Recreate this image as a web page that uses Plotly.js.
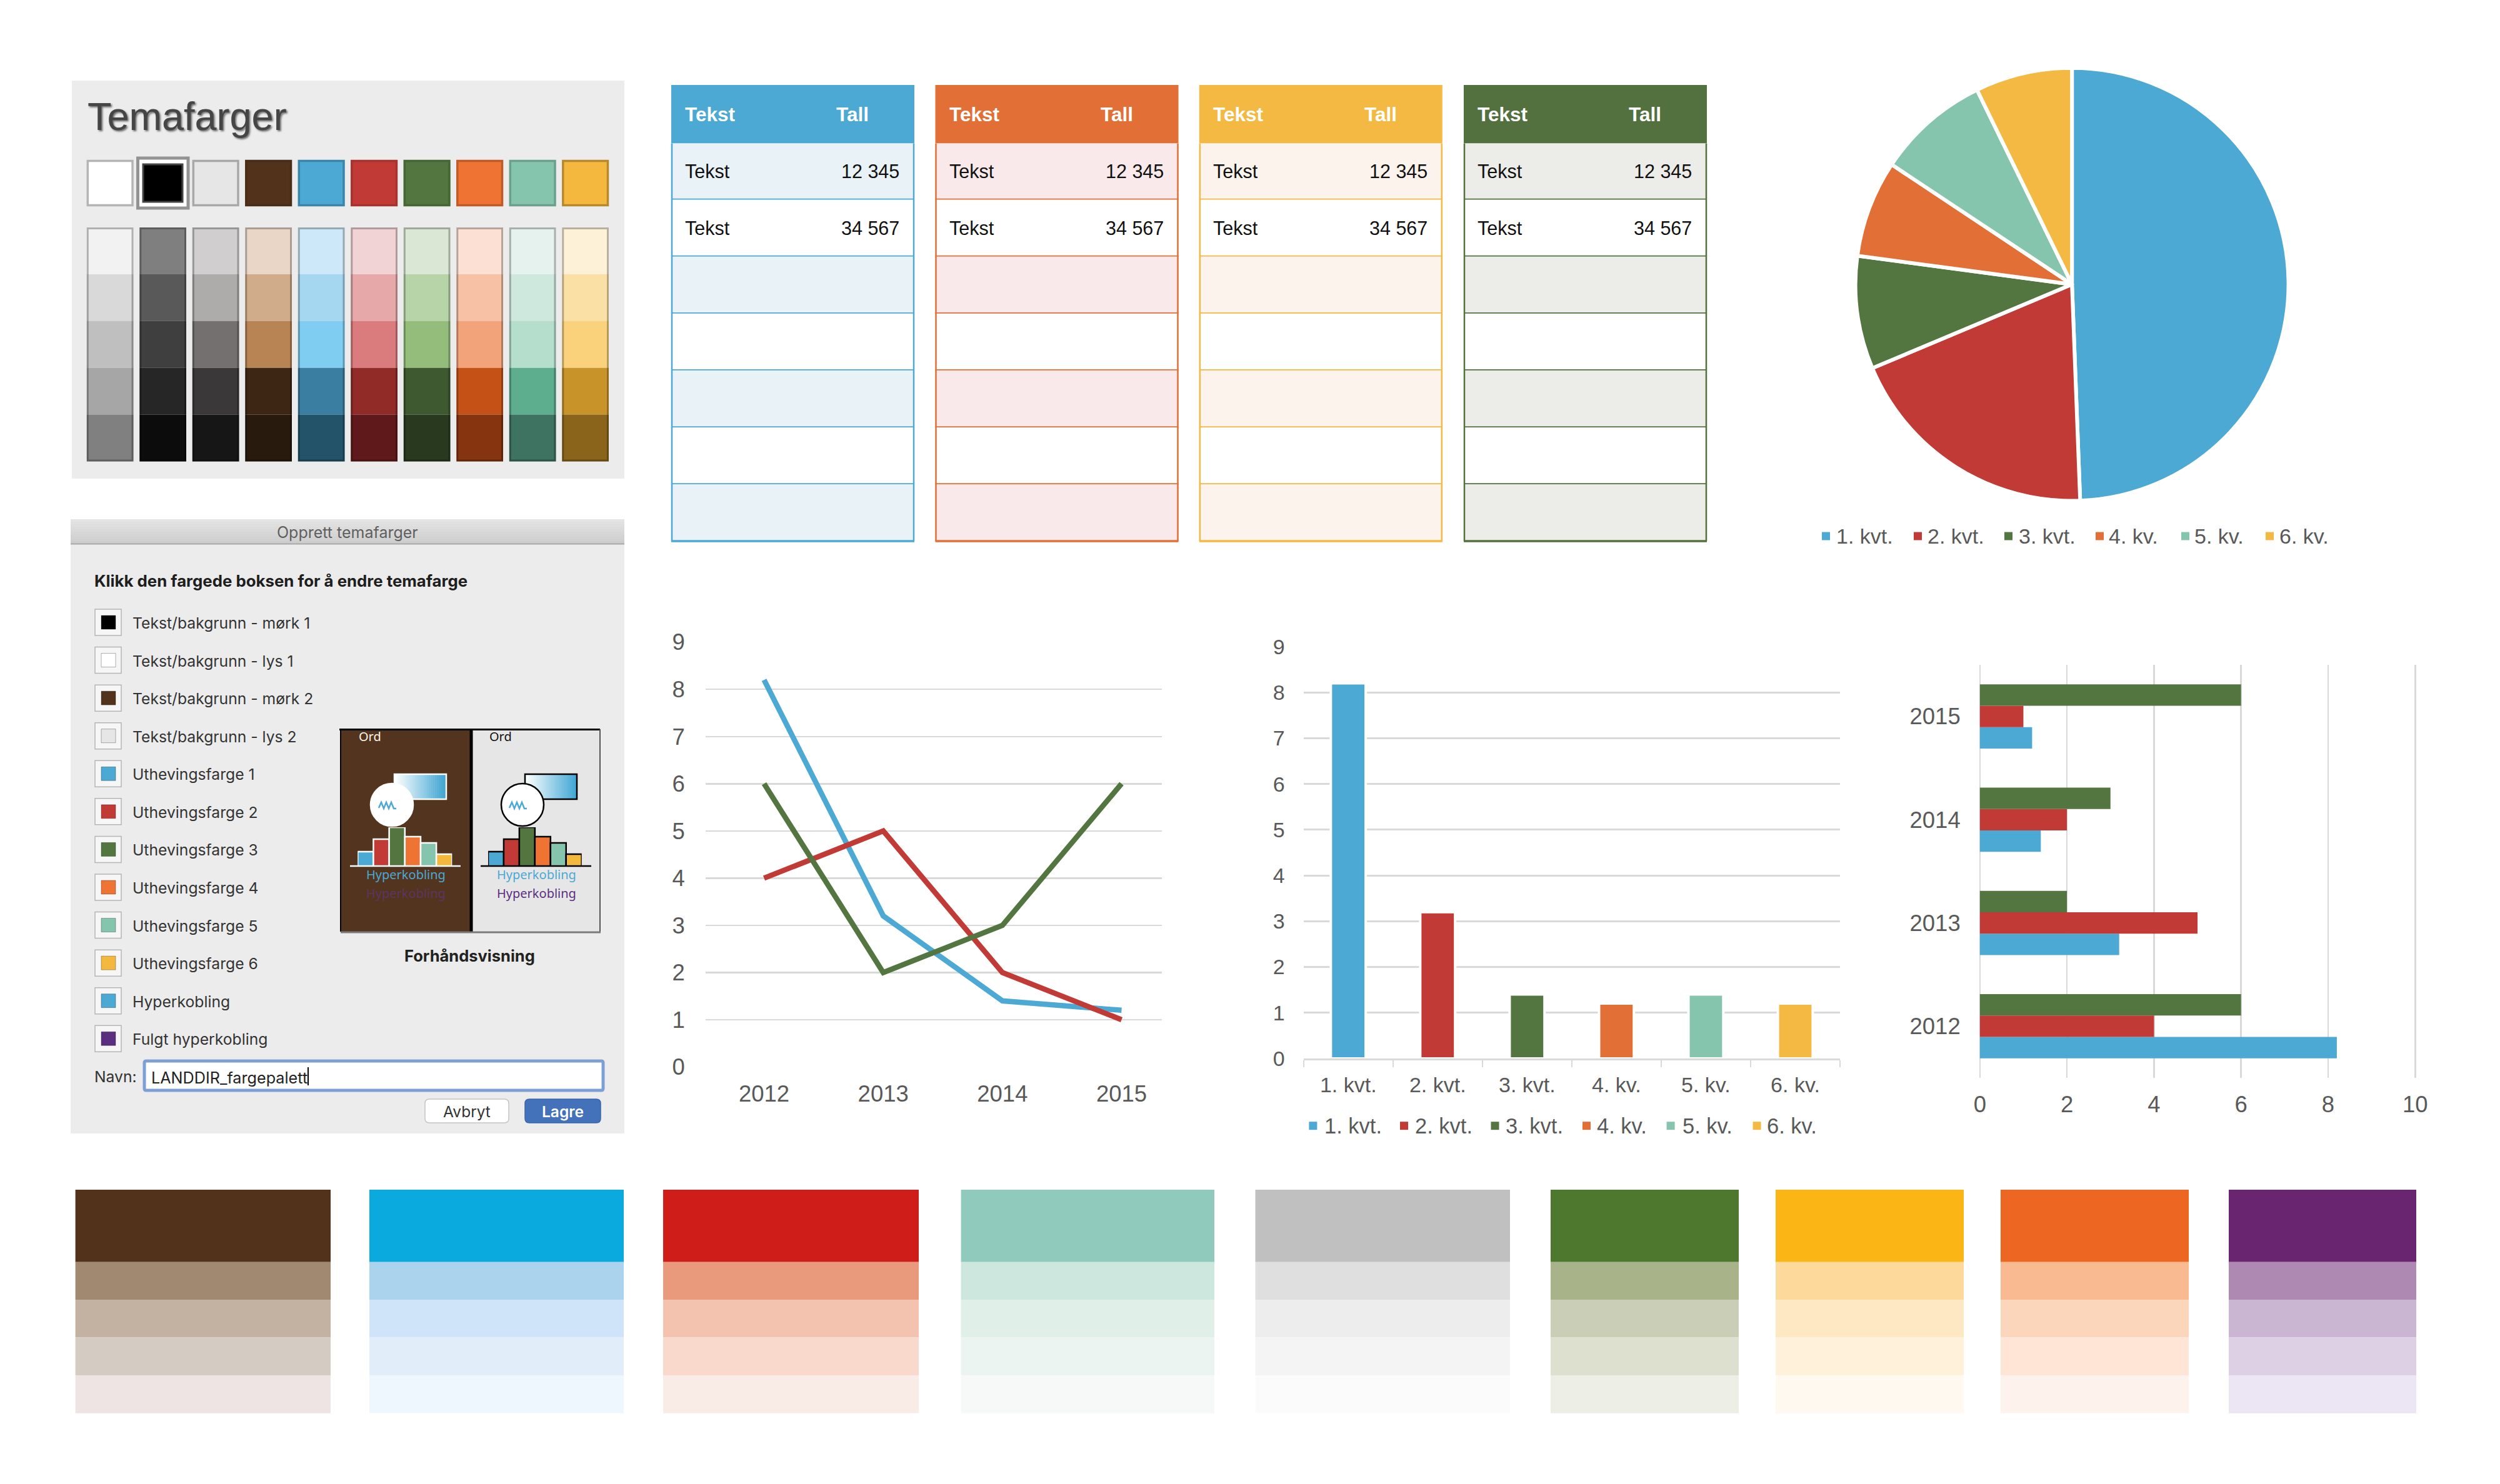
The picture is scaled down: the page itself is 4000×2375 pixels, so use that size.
<!DOCTYPE html>
<html><head><meta charset="utf-8">
<script src="https://cdn.plot.ly/plotly-3.0.1.min.js"></script>
<style>html,body{margin:0;padding:0;background:#fff}#chart{width:4000px;height:2375px}</style>
</head><body><div id="chart"></div>
<script>
// ---------- data ----------
const years = ['2012','2013','2014','2015'];
const blueSeries = [8.2,3.2,1.4,1.2];
const redSeries = [4,5,2,1];
const greenSeries = [6,2,3,6];
const quarters = ['1. kvt.','2. kvt.','3. kvt.','4. kv.','5. kv.','6. kv.'];
const quarterValues = [8.2,3.2,1.4,1.2,1.4,1.2];
const themeColors = ['#4ba9d3','#c13a35','#53753f','#e26f35','#86c5ad','#f4b942'];
const miniValues = [23,43,62,47,37,19];
const miniColors = ['#4ba9d3','#c13a35','#53753f','#ef7433','#86c5ad','#f4b83f'];
const swatchColors = ['#ffffff','#000000','#e7e6e6','#52321b','#4ba9d3','#c13a35','#53753f','#ef7433','#86c5ad','#f4b83f'];
const swatchEdges = ['#b4b4b4','#444444','#a8a8a8','#4a2d18','#3a85a8','#a8322e','#456535','#c05a26','#6aa08c','#b8892a'];
const paletteColumns = [
 ['#f2f2f2','#d9d9d9','#bfbfbf','#a6a6a6','#808080'],
 ['#7f7f7f','#595959','#3f3f3f','#262626','#0c0c0c'],
 ['#d0cece','#aeabab','#757070','#3a3838','#171616'],
 ['#e9d6c6','#d1ac8b','#b88454','#3d2614','#291a0e'],
 ['#cde8f8','#a6d7f1','#7fcdf0','#3a7fa1','#225368'],
 ['#f2d3d5','#e6a8a9','#da7c7d','#912b28','#60191a'],
 ['#dbe7d5','#b7d3a8','#94bd7c','#3e582f','#29391f'],
 ['#fbe0d3','#f6c1a5','#f2a379','#c55117','#85340f'],
 ['#e6f2ee','#cfe8de','#b5dfcc','#5dae8f','#3d7360'],
 ['#fdf1d8','#fbe0a5','#f9d27b','#c89328','#8a641b']];
const dialogLabels = ['Tekst/bakgrunn - mørk 1','Tekst/bakgrunn - lys 1','Tekst/bakgrunn - mørk 2','Tekst/bakgrunn - lys 2','Uthevingsfarge 1','Uthevingsfarge 2','Uthevingsfarge 3','Uthevingsfarge 4','Uthevingsfarge 5','Uthevingsfarge 6','Hyperkobling','Fulgt hyperkobling'];
const dialogColors = ['#000000','#ffffff','#52321b','#e7e6e6','#4ba9d3','#c13a35','#53753f','#ef7433','#86c5ad','#f4b83f','#4ba9d3','#5a2f7f'];
const tableHeaders = ['Tekst','Tall'];
const tableRows = [['Tekst','12 345'],['Tekst','34 567'],['',''],['',''],['',''],['',''],['','']];
const tableHeadColors = ['#4ba9d3','#e26f35','#f4b942','#53713f'];
const tableBandColors = ['#e9f2f6','#f9e9ea','#fcf4ec','#ecede8'];
const bottomStrips = [
 ['#52321b','#a18870','#c3b1a2','#d4cbc2','#eee4e3'],
 ['#0aaade','#acd3ee','#cfe4f8','#e1eefa','#eff7fe'],
 ['#cf1e1a','#e99a7d','#f4c3b0','#f9d9cc','#f9ebe6'],
 ['#8fcabd','#cde6de','#e1efe9','#ebf4f0','#f6f9f7'],
 ['#c0c0c0','#dfdfdf','#ededed','#f4f4f4','#fbfbfb'],
 ['#4d782e','#a8b38a','#cbceb6','#dddfcf','#edeee5'],
 ['#fbb515','#fed99c','#fee8c4','#fff1da','#fff9f0'],
 ['#ee6722','#f9ba92','#fbd6bb','#fee5d6','#fef3ec'],
 ['#69256f','#ae89b1','#cab6d2','#ddd0e4','#ece5f3']];

// ---------- helpers ----------
const W=4000,H=2375;
const X=p=>p/W, Y=p=>1-p/H;
const shapes=[], annotations=[];
const SANS='Liberation Sans, Arial, sans-serif', UI='Inter, sans-serif';
const GREY='#595959', GRID='#d9d9d9';
function rect(x0,y0,x1,y1,fill,line,lw){
  shapes.push({type:'rect',layer:'below',xref:'paper',yref:'paper',x0:X(x0),x1:X(x1),y0:Y(y0),y1:Y(y1),
    fillcolor:fill||'rgba(0,0,0,0)',line:{color:line||'rgba(0,0,0,0)',width:lw||0}});
}
function seg(x0,y0,x1,y1,c,lw){
  shapes.push({type:'line',layer:'below',xref:'paper',yref:'paper',x0:X(x0),x1:X(x1),y0:Y(y0),y1:Y(y1),line:{color:c,width:lw}});
}
function pathShape(pts,fill,line,lw){
  shapes.push({type:'path',layer:'below',xref:'paper',yref:'paper',path:pts,fillcolor:fill||'rgba(0,0,0,0)',line:{color:line||'rgba(0,0,0,0)',width:lw||0}});
}
function roundRect(x0,y0,x1,y1,r,fill,line,lw){
  const P=(x,y)=>X(x)+','+Y(y);
  pathShape('M'+P(x0+r,y0)+' L'+P(x1-r,y0)+' Q'+P(x1,y0)+' '+P(x1,y0+r)+' L'+P(x1,y1-r)+' Q'+P(x1,y1)+' '+P(x1-r,y1)+
    ' L'+P(x0+r,y1)+' Q'+P(x0,y1)+' '+P(x0,y1-r)+' L'+P(x0,y0+r)+' Q'+P(x0,y0)+' '+P(x0+r,y0)+' Z',fill,line,lw);
}
function txt(x,y,s,size,color,anchor,family,weight,shadow){
  const font={size:size,color:color,family:family||SANS};
  if(weight) font.weight=weight;
  if(shadow) font.shadow=shadow;
  annotations.push({xref:'paper',yref:'paper',x:X(x),y:Y(y),text:s,showarrow:false,xanchor:anchor||'left',yanchor:'middle',font:font,borderpad:0,borderwidth:0});
}
function mix(a,b,t){
  const h=c=>[1,3,5].map(i=>parseInt(c.substr(i,2),16));
  const A=h(a),B=h(b);
  return 'rgb('+A.map((v,i)=>Math.round(v+(B[i]-v)*t)).join(',')+')';
}
function hGrad(x0,y0,x1,y1,c0,c1,n){
  for(let i=0;i<n;i++) rect(x0+(x1-x0)*i/n,y0,x0+(x1-x0)*(i+1)/n+0.6,y1,mix(c0,c1,i/(n-1)));
}
function vGrad(x0,y0,x1,y1,c0,c1,n){
  for(let i=0;i<n;i++) rect(x0,y0+(y1-y0)*i/n,x1,y0+(y1-y0)*(i+1)/n+0.6,mix(c0,c1,i/(n-1)));
}

// ---------- Temafarger panel ----------
rect(115,129,999,766,'#ececec');
txt(140,186,'Temafarger',63,'#454545','left',SANS,null,'2px 2px 3px rgba(0,0,0,0.55)');
const colX=i=>138.8+84.5*i, colW=74.7;
swatchColors.forEach((c,i)=>{
  const x=colX(i);
  if(i===1){
    rect(220.5,253,301,333,'#ffffff','#939393',5);
    rect(229,263,292,323,c,swatchEdges[i],3);
  } else {
    rect(x+1.5,257.5,x+colW-1.5,328.5,c,swatchEdges[i],3.5);
  }
});
paletteColumns.forEach((col,i)=>{
  const x=colX(i);
  col.forEach((c,r)=>rect(x,364+74.9*r,x+colW,364+74.9*(r+1),c));
  rect(x+1.5,365.5,x+colW-1.5,737,null,'rgba(0,0,0,0.27)',3);
});

// ---------- Dialog panel ----------
rect(113,831,999,1814,'#ececec');
vGrad(113,831,999,870,'#e4e4e4','#cdcdcd',10);
seg(113,870.5,999,870.5,'#a8a8a8',2);
txt(555.5,851.5,'Opprett temafarger',25,'#5f5f5f','center',UI);
txt(151,930,'Klikk den fargede boksen for å endre temafarge',25.8,'#1e1e1e','left',UI,700);
dialogLabels.forEach((lab,i)=>{
  const cy=996+60.57*i;
  rect(152,cy-21,194,cy+21,'#f6f6f6','#b5b5b5',1.5);
  rect(162,cy-11,185,cy+11,dialogColors[i],'rgba(0,0,0,0.3)',1);
  txt(212,cy+1,lab,24.7,'#333333','left',UI);
});
// preview
rect(545,1167,752,1491,'#52341f');
rect(756,1169,959,1491,'#e7e6e6');
seg(543,1167.5,960,1167.5,'#000000',3);
seg(545,1167,545,1491,'#000000',2);
seg(754,1167,754,1491,'#000000',5);
seg(960,1167,960,1492,'#555555',2);
seg(545,1492,961,1492,'#7a7a7a',3);
txt(574,1178,'Ord',20,'#fff6e6','left','Noto Sans, sans-serif');
txt(783,1178,'Ord',20,'#111111','left','Noto Sans, sans-serif');
function previewIcon(dx,edge){
  hGrad(631+dx,1239,714+dx,1279,'#ffffff','#3fa6d4',28);
  rect(631+dx,1239,714+dx,1279,null,edge,2.5);
  shapes.push({type:'circle',layer:'below',xref:'paper',yref:'paper',x0:X(593+dx),x1:X(661+dx),y0:Y(1322),y1:Y(1254),fillcolor:'#ffffff',line:{color:edge,width:2.5}});
  const zig=[[606,1293],[610,1284],[614,1294],[618,1284],[622,1294],[626,1284],[630,1294],[634,1294]];
  pathShape(zig.map((p,i)=>(i?'L':'M')+X(p[0]+dx)+','+Y(p[1])).join(' '),null,'#4ba9d3',2.5);
  seg(560+dx,1386,737+dx,1386,edge,2.5);
}
previewIcon(0,'#ffffff');
previewIcon(209,'#000000');
txt(649,1400,'Hyperkobling',20,'#4ba9d3','center','Noto Sans, sans-serif');
txt(649,1429,'Hyperkobling',20,'#5e3460','center','Noto Sans, sans-serif');
txt(858,1400,'Hyperkobling',20,'#4ba9d3','center','Noto Sans, sans-serif');
txt(858,1429,'Hyperkobling',20,'#5a2f7f','center','Noto Sans, sans-serif');
txt(751,1529,'Forhåndsvisning',25.5,'#222222','center',UI,700);
// name input and buttons
txt(151,1723,'Navn:',24.7,'#333333','left',UI);
roundRect(231,1698,965,1745,3,'#ffffff','#7c9fd6',5);
txt(242,1725,'LANDDIR_fargepalett',25.2,'#222222','left',UI);
seg(493,1708,493,1737,'#000000',2);
roundRect(680,1759,814,1797,7,'#ffffff','#c4c4c4',1.5);
txt(747,1779,'Avbryt',24.5,'#333333','center',UI);
roundRect(840,1759,961,1797,7,'#4372ba','#3a65a8',1.5);
txt(900,1779,'Lagre',24.5,'#ffffff','center',UI,600);

// ---------- Tables ----------
const tableLeft=[1074,1496.5,1918.8,2342], tableWidth=389;
const headTop=136, headBottom=229.4, rowH=91.1;
tableHeadColors.forEach((c,t)=>{
  const x0=tableLeft[t], x1=x0+tableWidth;
  rect(x0,headTop,x1,headBottom,c);
  txt(x0+22,183,tableHeaders[0],31.5,'#ffffff','left',SANS,700);
  txt(x0+316,183,tableHeaders[1],31.5,'#ffffff','right',SANS,700);
  tableRows.forEach((row,r)=>{
    const y0=headBottom+ (r===0?0:(r*rowH-1)), y1=headBottom+(r+1)*rowH-1;
    rect(x0,y0,x1,y1,r%2===0?tableBandColors[t]:'#ffffff');
    if(row[0]) txt(x0+22,y0+(y1-y0)/2,row[0],30.5,'#111111','left');
    if(row[1]) txt(x0+365,y0+(y1-y0)/2,row[1],30.5,'#111111','right');
    seg(x0,y1,x1,y1,c,3.5);
  });
  const bottom=headBottom+7*rowH-1;
  seg(x0+1,headBottom,x0+1,bottom,c,2.5);
  seg(x1-1,headBottom,x1-1,bottom,c,2.5);
});

// ---------- Legends ----------
function legendRow(items,sqX,txX,cy,size){
  items.forEach((lab,i)=>{
    rect(sqX[i],cy-6.5,sqX[i]+13,cy+6.5,themeColors[i]);
    txt(txX[i],cy,lab,size,GREY,'left');
  });
}
legendRow(quarters,[2915,3062,3207,3353,3490,3625],[2938,3083.6,3230,3374,3511,3647],858,34);
legendRow(quarters,[2094.4,2240,2385.5,2532,2666.6,2804.6],[2119,2263.6,2409,2554.6,2691.5,2827],1801.7,34.5);

// ---------- Bottom colour strips ----------
const stripX=[[120.6,529],[591,998],[1061,1470],[1537.6,1943],[2008.5,2416],[2481,2782],[2841,3142],[3201,3502],[3566,3866]];
const stripY=[1904,2019.7,2080,2140.3,2201,2261.7];
bottomStrips.forEach((col,i)=>col.forEach((c,r)=>rect(stripX[i][0],stripY[r],stripX[i][1],stripY[r+1],c)));

// ---------- Traces ----------
const tickFont={family:SANS,size:36.5,color:GREY};
const tickFont2={family:SANS,size:34,color:GREY};
const traces=[
 // pie
 {type:'pie',labels:quarters,values:quarterValues,sort:false,direction:'clockwise',rotation:0,textinfo:'none',hoverinfo:'none',showlegend:false,
  marker:{colors:themeColors,line:{color:'#ffffff',width:6}},
  domain:{x:[X(2968.7),X(3661.6)],y:[Y(802.4),Y(107.8)]}},
 // line chart
 {type:'scatter',mode:'lines',x:years,y:blueSeries,xaxis:'x',yaxis:'y',line:{color:themeColors[0],width:8.5},hoverinfo:'none',showlegend:false},
 {type:'scatter',mode:'lines',x:years,y:redSeries,xaxis:'x',yaxis:'y',line:{color:themeColors[1],width:8.5},hoverinfo:'none',showlegend:false},
 {type:'scatter',mode:'lines',x:years,y:greenSeries,xaxis:'x',yaxis:'y',line:{color:themeColors[2],width:8.5},hoverinfo:'none',showlegend:false},
 // column chart
 {type:'bar',x:quarters,y:quarterValues,xaxis:'x2',yaxis:'y2',width:0.39,marker:{color:themeColors,line:{color:'#ffffff',width:4}},hoverinfo:'none',showlegend:false},
 // horizontal bars
 {type:'bar',orientation:'h',y:years,x:blueSeries,xaxis:'x3',yaxis:'y3',marker:{color:themeColors[0]},hoverinfo:'none',showlegend:false},
 {type:'bar',orientation:'h',y:years,x:redSeries,xaxis:'x3',yaxis:'y3',marker:{color:themeColors[1]},hoverinfo:'none',showlegend:false},
 {type:'bar',orientation:'h',y:years,x:greenSeries,xaxis:'x3',yaxis:'y3',marker:{color:themeColors[2]},hoverinfo:'none',showlegend:false},
 // preview mini charts
 {type:'bar',x:quarters,y:miniValues,xaxis:'x4',yaxis:'y4',width:1,marker:{color:miniColors,line:{color:'#ffffff',width:2.5}},hoverinfo:'none',showlegend:false},
 {type:'bar',x:quarters,y:miniValues,xaxis:'x5',yaxis:'y5',width:1,marker:{color:miniColors,line:{color:'#000000',width:2.5}},hoverinfo:'none',showlegend:false}
];
const hidden={visible:false,fixedrange:true};
const layout={
 width:W,height:H,margin:{l:0,r:0,t:0,b:0,pad:0},paper_bgcolor:'#ffffff',plot_bgcolor:'rgba(0,0,0,0)',showlegend:false,
 barmode:'group',bargap:0.378,bargroupgap:0,
 shapes:shapes,annotations:annotations,
 xaxis:{domain:[X(1128.8),X(1859.3)],anchor:'y',type:'category',categoryorder:'array',categoryarray:years,range:[-0.4916,3.34],showgrid:false,zeroline:false,showline:false,ticks:'',tickfont:tickFont,ticklabelstandoff:18},
 yaxis:{domain:[Y(1707.5),Y(1027.7)],anchor:'x',range:[0,9],dtick:1,tick0:0,gridcolor:GRID,gridwidth:2.5,zeroline:false,showline:false,ticks:'',tickfont:tickFont,ticklabelstandoff:32},
 xaxis2:{domain:[X(2085.7),X(2944)],anchor:'y2',type:'category',categoryorder:'array',categoryarray:quarters,showgrid:false,zeroline:false,showline:true,linecolor:GRID,linewidth:2.5,ticks:'outside',tickson:'boundaries',ticklen:11,tickcolor:GRID,tickwidth:2,tickfont:tickFont2,ticklabelstandoff:11},
 yaxis2:{domain:[Y(1694),Y(1034.9)],anchor:'x2',range:[0,9],dtick:1,tick0:0,gridcolor:GRID,gridwidth:3,zeroline:false,showline:false,ticks:'',tickfont:tickFont2,ticklabelstandoff:29},
 xaxis3:{domain:[X(3165.7),X(3866.4)],anchor:'y3',range:[-0.03,10.03],dtick:2,tick0:0,gridcolor:GRID,gridwidth:2.5,zeroline:false,showline:false,ticks:'',tickfont:tickFont,ticklabelstandoff:17},
 yaxis3:{domain:[Y(1725),Y(1064)],anchor:'x3',type:'category',categoryorder:'array',categoryarray:years,range:[-0.5,3.5],showgrid:false,zeroline:false,showline:false,ticks:'',tickfont:tickFont,ticklabelstandoff:28},
 xaxis4:Object.assign({domain:[X(572.3),X(723.3)],anchor:'y4',type:'category',categoryarray:quarters,range:[-0.5,5.5]},hidden),
 yaxis4:Object.assign({domain:[Y(1386),Y(1324)],anchor:'x4',range:[0,62]},hidden),
 xaxis5:Object.assign({domain:[X(781),X(930.7)],anchor:'y5',type:'category',categoryarray:quarters,range:[-0.5,5.5]},hidden),
 yaxis5:Object.assign({domain:[Y(1386),Y(1324)],anchor:'x5',range:[0,62]},hidden)
};
Plotly.newPlot('chart',traces,layout,{displayModeBar:false,staticPlot:true});
</script></body></html>
